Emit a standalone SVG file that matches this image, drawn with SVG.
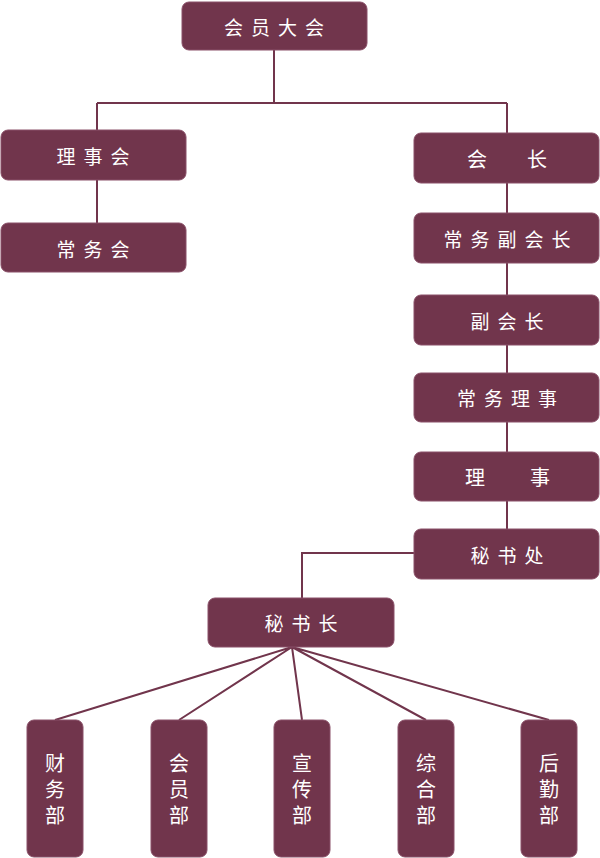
<svg xmlns="http://www.w3.org/2000/svg" width="600" height="858" viewBox="0 0 600 858">
<style>
.box{fill:#71354c;stroke:#8a5068;stroke-width:1}
.t{fill:#ffffff;font-family:"Noto Sans CJK SC","Noto Sans CJK JP",sans-serif;font-size:19px;text-anchor:middle;dominant-baseline:central;letter-spacing:8px}
.v{fill:#ffffff;font-family:"Noto Sans CJK SC","Noto Sans CJK JP",sans-serif;font-size:20px;text-anchor:middle;dominant-baseline:central}
.vt{fill:#ffffff;font-family:"Noto Sans CJK SC","Noto Sans CJK JP",sans-serif;font-size:20px;writing-mode:vertical-rl;text-anchor:middle;letter-spacing:6px}
.ln{stroke:#71354c;stroke-width:2;fill:none}
</style>
<rect width="600" height="858" fill="#ffffff"/>
<g id="connectors">
<path class="ln" d="M274,50 V103 M97,103 H507 M97,103 V130 M507,103 V133 M97,180 V223 M507,183 V213 M507,263 V295 M507,345 V373 M507,422 V452 M507,501 V529 M414,553 H302 V598"/>
<path class="ln" stroke-width="1.6" d="M292,647 L55,720 M292,647 L179,720 M292,647 L302,720 M292,647 L426,720 M292,647 L549,720"/>
</g>
<g id="n1"><rect class="box" x="182" y="2" width="185" height="48" rx="7"/><text class="t" x="278" y="26">会员大会</text></g>
<g id="n2"><rect class="box" x="1" y="130" width="185" height="50" rx="7"/><text class="t" x="97" y="155">理事会</text></g>
<g id="n3"><rect class="box" x="1" y="223" width="185" height="49" rx="7"/><text class="t" x="97" y="248">常务会</text></g>
<g id="n4"><rect class="box" x="414" y="133" width="185" height="50" rx="7"/><text class="v" x="477" y="158">会</text><text class="v" x="537" y="158">长</text></g>
<g id="n5"><rect class="box" x="414" y="213" width="185" height="50" rx="7"/><text class="t" x="511" y="238">常务副会长</text></g>
<g id="n6"><rect class="box" x="414" y="295" width="185" height="50" rx="7"/><text class="t" x="511" y="320">副会长</text></g>
<g id="n7"><rect class="box" x="414" y="373" width="185" height="49" rx="7"/><text class="t" x="511" y="397">常务理事</text></g>
<g id="n8"><rect class="box" x="414" y="452" width="185" height="49" rx="7"/><text class="v" x="475" y="476">理</text><text class="v" x="540" y="476">事</text></g>
<g id="n9"><rect class="box" x="414" y="529" width="185" height="50" rx="7"/><text class="t" x="511" y="554">秘书处</text></g>
<g id="n10"><rect class="box" x="208" y="598" width="186" height="49" rx="7"/><text class="t" x="305" y="622">秘书长</text></g>
<g id="n11"><rect class="box" x="27" y="720" width="56" height="137" rx="7"/><text class="vt" x="55" y="792">财务部</text></g>
<g id="n12"><rect class="box" x="151" y="720" width="56" height="137" rx="7"/><text class="vt" x="179" y="792">会员部</text></g>
<g id="n13"><rect class="box" x="274" y="720" width="56" height="137" rx="7"/><text class="vt" x="302" y="792">宣传部</text></g>
<g id="n14"><rect class="box" x="398" y="720" width="56" height="137" rx="7"/><text class="vt" x="426" y="792">综合部</text></g>
<g id="n15"><rect class="box" x="521" y="720" width="56" height="137" rx="7"/><text class="vt" x="549" y="792">后勤部</text></g>
</svg>
